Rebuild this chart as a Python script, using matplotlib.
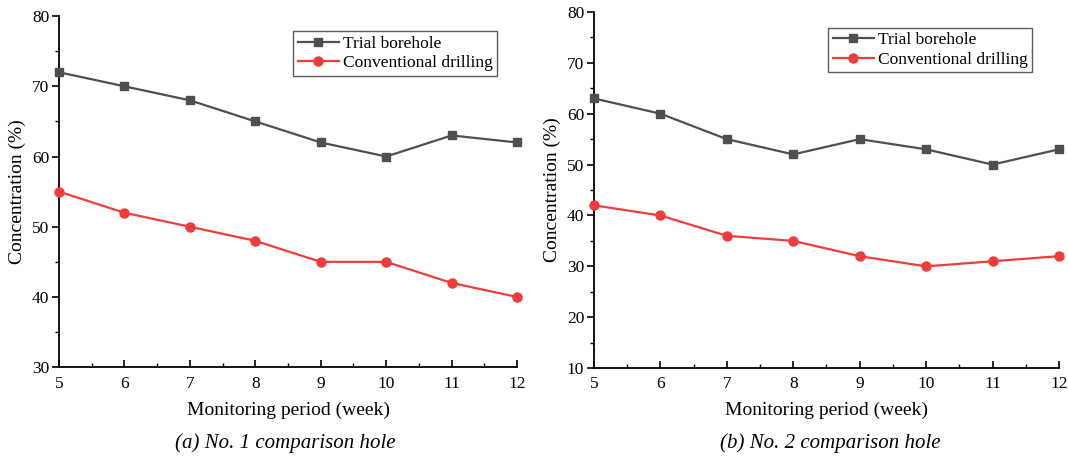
import matplotlib.pyplot as plt
import numpy as np

weeks = [5, 6, 7, 8, 9, 10, 11, 12]
trial_1 = [72, 70, 68, 65, 62, 60, 63, 62]
conv_1 = [55, 52, 50, 48, 45, 45, 42, 40]
trial_2 = [63, 60, 55, 52, 55, 53, 50, 53]
conv_2 = [42, 40, 36, 35, 32, 30, 31, 32]
captions = ["(a) No. 1 comparison hole", "(b) No. 2 comparison hole"]

plt.rcParams['font.family'] = ['Liberation Serif', 'DejaVu Serif']

GRAY = '#4f4f4f'
RED = '#f03c3c'


def draw_panel(ax, trial, conv, ylo, leg_anchor):
    ax.plot(weeks, trial, color=GRAY, marker='s', markersize=6, lw=1.6,
            label='Trial borehole', clip_on=False, zorder=3)
    ax.plot(weeks, conv, color=RED, marker='o', markersize=6.5, lw=1.6,
            label='Conventional drilling', clip_on=False, zorder=3)
    ax.set_xlim(5, 12)
    ax.set_ylim(ylo, 80)
    ax.set_xticks(weeks)
    ax.set_xticks(np.arange(5.5, 12, 1), minor=True)
    ax.set_yticks(np.arange(ylo, 81, 10))
    ax.set_yticks(np.arange(ylo + 5, 80, 10), minor=True)
    ax.spines['top'].set_visible(False)
    ax.spines['right'].set_visible(False)
    for s in ('left', 'bottom'):
        ax.spines[s].set_linewidth(1.3)
    ax.tick_params(axis='x', which='major', direction='in', length=5, width=1.2,
                   labelsize=12.5, pad=6)
    ax.tick_params(axis='x', which='minor', direction='in', length=3, width=1.0)
    ax.tick_params(axis='y', which='major', direction='out', length=5, width=1.2,
                   labelsize=12.5, pad=2)
    ax.tick_params(axis='y', which='minor', direction='out', length=3, width=1.0)
    ax.set_xlabel('Monitoring period (week)', fontsize=14, labelpad=7)
    ax.set_ylabel('Concentration (%)', fontsize=14, labelpad=4)
    leg = ax.legend(loc='upper right', bbox_to_anchor=leg_anchor, fontsize=12.5,
                    frameon=True, fancybox=False, edgecolor='#333333',
                    handlelength=2.4, handletextpad=0.2, borderpad=0.25,
                    labelspacing=0.2, borderaxespad=0)
    leg.get_frame().set_linewidth(1.0)


fig = plt.figure(figsize=(10.68, 4.59), dpi=100)
ax1 = fig.add_axes([0.0552, 0.200, 0.4290, 0.765])
ax2 = fig.add_axes([0.5562, 0.198, 0.4353, 0.776])

draw_panel(ax1, trial_1, conv_1, 30, (0.956, 0.957))
draw_panel(ax2, trial_2, conv_2, 10, (0.942, 0.955))

fig.text(0.267, 0.035, captions[0], ha='center', va='center', fontsize=15, style='italic')
fig.text(0.777, 0.035, captions[1], ha='center', va='center', fontsize=15, style='italic')

fig.savefig('out.png', dpi=100)
